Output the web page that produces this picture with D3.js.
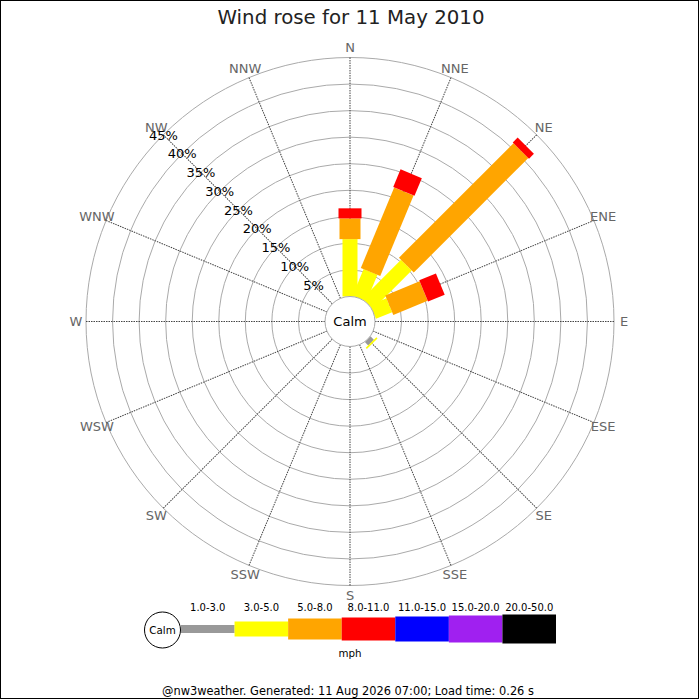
<!DOCTYPE html>
<html>
<head>
<meta charset="utf-8">
<script src="https://cdnjs.cloudflare.com/ajax/libs/d3/7.8.5/d3.min.js"></script>
<style>
  body { margin: 0; background: #fff; }
  svg { display: block; font-family: "DejaVu Sans", sans-serif; }
</style>
</head>
<body>
<svg id="rose" width="700" height="700"></svg>
<script>
// 16 compass points, clockwise from N
const directions = ["N", "NNE", "NE", "ENE", "E", "ESE", "SE", "SSE",
  "S", "SSW", "SW", "WSW", "W", "WNW", "NW", "NNW"];

const speedBands = ["1.0-3.0", "3.0-5.0", "5.0-8.0", "8.0-11.0", "11.0-15.0", "15.0-20.0", "20.0-50.0"];

// percentage of the day in each band, per direction
const band1to3   = [0, 0, 0, 0, 0, 0, 0.9, 0, 0, 0, 0, 0, 0, 0, 0, 0];
const band3to5   = [10.8, 5.4, 10.3, 3.3, 0, 0, 0.3, 0, 0, 0, 0, 0, 0, 0, 0, 0];
const band5to8   = [3.9, 16.4, 30.5, 7.0, 0, 0, 0, 0, 0, 0, 0, 0, 0, 0, 0, 0];
const band8to11  = [1.9, 3.6, 1.3, 3.4, 0, 0, 0, 0, 0, 0, 0, 0, 0, 0, 0, 0];
const band11to15 = [0, 0, 0, 0, 0, 0, 0, 0, 0, 0, 0, 0, 0, 0, 0, 0];
const band15to20 = [0, 0, 0, 0, 0, 0, 0, 0, 0, 0, 0, 0, 0, 0, 0, 0];
const band20to50 = [0, 0, 0, 0, 0, 0, 0, 0, 0, 0, 0, 0, 0, 0, 0, 0];

const ringTicks = [5, 10, 15, 20, 25, 30, 35, 40, 45];

const series = [band1to3, band3to5, band5to8, band8to11, band11to15, band15to20, band20to50];

const svg = d3.select("#rose");

let cx = 350, cy = 321.5;
let calmR = 25, outerR = 264;

let r = d3.scaleLinear().domain([0, 45]).range([calmR, outerR]);
let angle = d3.scalePoint().domain(directions.concat(["_"])).range([0, 360]);

let colour = d3.scaleOrdinal().domain(speedBands)
  .range(["#999999", "#ffff00", "#ffa500", "#ff0000", "#0000ff", "#a020f0", "#000000"]);
let thickness = d3.scaleOrdinal().domain(speedBands)
  .range([8, 15, 21, 23, 25, 27, 29]);

// border
svg.append("rect")
  .attr("x", 0.5).attr("y", 0.5)
  .attr("width", 698).attr("height", 698)
  .attr("fill", "none").attr("stroke", "#000");

svg.append("text")
  .attr("x", 351).attr("y", 24)
  .attr("text-anchor", "middle")
  .style("font-size", "19.8px")
  .attr("fill", "#222")
  .text("Wind rose for 11 May 2010");

let rose = svg.append("g")
  .attr("transform", "translate(" + cx + "," + cy + ")");

// rings
rose.append("g").selectAll("circle")
  .data(ringTicks)
  .enter()
  .append("circle")
  .attr("r", d => r(d))
  .attr("fill", "none")
  .attr("stroke", "#aaa")
  .attr("stroke-width", 1);

// spokes
rose.append("g").selectAll("line")
  .data(directions)
  .enter()
  .append("line")
  .attr("transform", d => "rotate(" + angle(d) + ")")
  .attr("y1", -calmR)
  .attr("y2", -outerR)
  .attr("stroke", "#444")
  .attr("stroke-width", 1)
  .attr("stroke-dasharray", "1.5,1");

// stacked bars
let stacks = [];
directions.forEach(function (dir, i) {
  let base = 0;
  speedBands.forEach(function (band, j) {
    let v = series[j][i];
    if (v > 0) {
      stacks.push({ dir: dir, band: band, from: base, to: base + v });
      base += v;
    }
  });
});

rose.append("g").selectAll("rect")
  .data(stacks)
  .enter()
  .append("rect")
  .attr("transform", d => "rotate(" + angle(d.dir) + ")")
  .attr("x", d => -thickness(d.band) / 2)
  .attr("y", d => -r(d.to))
  .attr("width", d => thickness(d.band))
  .attr("height", d => r(d.to) - r(d.from))
  .attr("fill", d => colour(d.band));

// calm circle on top
rose.append("circle")
  .attr("r", calmR)
  .attr("fill", "#fff")
  .attr("stroke", "#aaa");

rose.append("text")
  .attr("text-anchor", "middle")
  .attr("dy", "0.35em")
  .style("font-size", "13px")
  .text("Calm");

// direction labels
rose.append("g").selectAll("text")
  .data(directions)
  .enter()
  .append("text")
  .attr("x", d => 274 * Math.sin(angle(d) * Math.PI / 180))
  .attr("y", d => -274 * Math.cos(angle(d) * Math.PI / 180))
  .attr("dy", "0.36em")
  .attr("text-anchor", "middle")
  .style("font-size", "13px")
  .attr("fill", "#666")
  .text(d => d);

// percentage labels along NW
let nw = angle("NW") * Math.PI / 180;
rose.append("g").selectAll("text")
  .data(ringTicks)
  .enter()
  .append("text")
  .attr("x", d => r(d) * Math.sin(nw))
  .attr("y", d => -r(d) * Math.cos(nw))
  .attr("dy", "0.36em")
  .attr("text-anchor", "middle")
  .style("font-size", "13px")
  .attr("fill", "#000")
  .text(d => d + "%");

// legend
let legend = svg.append("g");
let lx = d3.scaleBand().domain(speedBands).range([181, 556]);
let ly = 629;

legend.selectAll("rect")
  .data(speedBands)
  .enter()
  .append("rect")
  .attr("x", d => lx(d))
  .attr("y", d => ly - thickness(d) / 2)
  .attr("width", lx.bandwidth())
  .attr("height", d => thickness(d))
  .attr("fill", d => colour(d));

legend.selectAll("text.band")
  .data(speedBands)
  .enter()
  .append("text")
  .attr("class", "band")
  .attr("x", d => lx(d) + lx.bandwidth() / 2)
  .attr("y", 611)
  .attr("text-anchor", "middle")
  .style("font-size", "10px")
  .text(d => d);

legend.append("circle")
  .attr("cx", 162.5).attr("cy", 630)
  .attr("r", 18)
  .attr("fill", "#fff")
  .attr("stroke", "#000");

legend.append("text")
  .attr("x", 162.5).attr("y", 630)
  .attr("dy", "0.35em")
  .attr("text-anchor", "middle")
  .style("font-size", "10.3px")
  .text("Calm");

legend.append("text")
  .attr("x", 350).attr("y", 657)
  .attr("text-anchor", "middle")
  .style("font-size", "10.3px")
  .text("mph");

svg.append("text")
  .attr("x", 348).attr("y", 695)
  .attr("text-anchor", "middle")
  .style("font-size", "11.4px")
  .text("@nw3weather. Generated: 11 Aug 2026 07:00; Load time: 0.26 s");
</script>
</body>
</html>
